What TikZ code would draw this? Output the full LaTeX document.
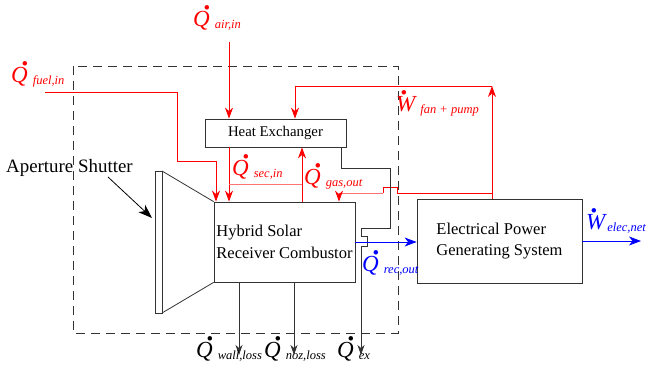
\documentclass[tikz,border=0pt]{standalone}
\usepackage{fontspec}
\setmainfont{Liberation Serif}
\usetikzlibrary{arrows.meta}
% dotted flow symbol with subscript
\newcommand\flow[3][10.5pt]{{\fontsize{23}{23}\selectfont\itshape\rlap{\kern#1\smash{\raisebox{17pt}{\fontsize{38}{38}\selectfont.}}}#2}\kern5pt\raisebox{-2pt}{\fontsize{12.5}{12.5}\selectfont\itshape #3}}
\begin{document}
\begin{tikzpicture}[
    x=1pt, y=-1pt,
    box/.style={draw=black!80, line width=0.8pt, inner sep=0pt, align=left, font=\fontsize{16.5}{21.5}\selectfont},
    lbl/.style={anchor=base west, inner sep=0pt},
    redflow/.style={draw=red, line width=0.8pt, -{Stealth[length=11pt,width=8pt,inset=3.5pt]}},
    redline/.style={draw=red, line width=0.8pt},
    pinkline/.style={draw=red!55, line width=0.8pt},
    blueflow/.style={draw=blue, line width=0.8pt, -{Stealth[length=12pt,width=9pt,inset=3.5pt]}},
    blackflow/.style={draw=black!80, line width=0.8pt, -{Stealth[length=10pt,width=7pt,inset=3pt]}}
]
\useasboundingbox (0,0) rectangle (648,378);

% system boundary
\draw[black!80, line width=0.8pt, dash pattern=on 9pt off 6pt] (73,66) rectangle (398,333);

% components
\node[box, minimum width=141pt, minimum height=28pt, font=\fontsize{14.8}{17}\selectfont] (hx) at (275.5,133) {Heat Exchanger};
\node[box, minimum width=141pt, minimum height=80pt] (hsrc) at (284.5,242) {Hybrid Solar\\Receiver Combustor};
\node[box, minimum width=165pt, minimum height=84pt] (epgs) at (499.5,241) {Electrical Power\\Generating System};

% aperture shutter
\draw[black!80, line width=0.8pt] (155,171) rectangle (162,313);
\draw[black!80, line width=0.8pt] (162,171) -- (hsrc.north west);
\draw[black!80, line width=0.8pt] (162,313) -- (hsrc.south west);
\node[lbl, font=\fontsize{18.9}{21}\selectfont] (aplbl) at (6,172) {Aperture Shutter};
\coordinate (apfrom) at (108,177);
\coordinate (apto) at (152,218);
\draw[black, line width=0.8pt, -{Stealth[length=14pt,width=10pt,inset=4pt]}] (apfrom) -- (apto);

% air and fuel in
\coordinate (airin) at (229,42);
\draw[redflow] (airin) -- (airin |- hx.north);
\coordinate (fuelin) at (45,92);
\coordinate (fuelbend) at (177,161);
\coordinate (fuelx) at (216,202);
\draw[redflow] (fuelin) -| (fuelbend) -| (hsrc.north -| fuelx);

% secondary air and gas out
\coordinate (gasx) at (302,184);
\draw[redflow] (hx.south -| airin) -- (hsrc.north -| airin);
\draw[pinkline] (airin |- gasx) -- (gasx);
\draw[redflow] (hsrc.north -| gasx) -- (hx.south -| gasx);

% fan and pump power
\coordinate (fantop) at (492,86);
\coordinate (hxin) at (295,86);
\draw[redflow] (epgs.north -| fantop) -- (fantop);
\draw[redflow] (fantop) -- (hxin) -- (hxin |- hx.north);
\coordinate (gasret) at (339,193);
\draw[redline] (fantop |- gasret) -- (397,193) -- (397,187) -- (383,187) -- (383,193);
\draw[pinkline, -{Stealth[length=11pt,width=8pt,inset=3.5pt,color=red]}] (383,193) -- (gasret) -- (gasret |- hsrc.north);

% exhaust
\coordinate (exhx) at (341,147);
\coordinate (exout) at (361,355);
\draw[blackflow] (exhx) -- (341,168) -- (390,168) -- (390,228) -- (361,228) -- (361,236) -- (367,236) -- (367,246) -- (361,246) -- (exout);

% losses
\coordinate (wallout) at (239,355);
\coordinate (nozout) at (294,355);
\draw[blackflow] (hsrc.south -| wallout) -- (wallout);
\draw[blackflow] (hsrc.south -| nozout) -- (nozout);

% electric side
\coordinate (elecout) at (641,241);
\draw[blueflow] (hsrc.east) -- (hsrc.east -| epgs.west);
\draw[blueflow] (epgs.east) -- (elecout);

% labels
\node[lbl, red] (qair) at (193,26) {\flow{Q}{air,in}};
\node[lbl, red] (qfuel) at (11,82) {\flow{Q}{fuel,in}};
\node[lbl, red] (qsec) at (232,175) {\flow{Q}{sec,in}};
\node[lbl, red] (qgas) at (304,184) {\flow{Q}{gas,out}};
\node[lbl, red] (wfan) at (396,111) {\flow[4.5pt]{W}{fan + pump}};
\node[lbl, blue] (welec) at (586,229) {\flow[4.5pt]{W}{\kern-3pt elec,net}};
\node[lbl, blue] (qrec) at (362,271) {\flow{Q}{rec,out}};
\node[lbl] (qwall) at (196,357) {\flow{Q}{wall,loss}};
\node[lbl] (qnoz) at (264,357) {\flow{Q}{noz,loss}};
\node[lbl] (qex) at (337,357) {\flow{Q}{ex}};
\end{tikzpicture}
\end{document}
